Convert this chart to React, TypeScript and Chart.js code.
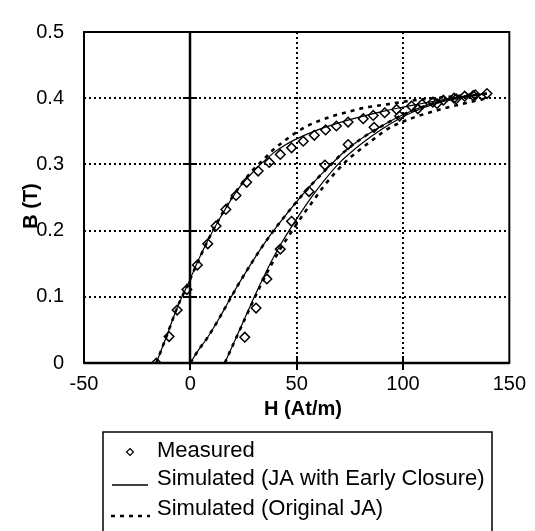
import React, { useEffect, useRef } from 'react';
import { Chart, registerables } from 'chart.js';

Chart.register(...registerables);

// ---- axis ticks ----
const xTickValues = [-50, 0, 50, 100, 150];
const yTickValues = [0, 0.1, 0.2, 0.3, 0.4, 0.5];
const xGridValues = [50, 100];
const yGridValues = [0.1, 0.2, 0.3, 0.4];
const xTickMarks = [0, 50, 100];

// ---- legend labels ----
const legendLabels = ['Measured', 'Simulated (JA with Early Closure)', 'Simulated (Original JA)'];
const xTitle = 'H (At/m)';
const yTitle = 'B (T)';

// ---- Measured data (descending branch) ----
const measDescH = [139.5, 134, 129, 124, 119, 114, 109, 104, 97, 91.4, 86, 81.3, 74.2, 68.7, 63.6, 58.3, 53.1, 47.6, 42.3, 37.1, 31.9, 26.5, 21.5, 16.7, 12.1, 8.2, 3.3, -1.6, -6.2, -10, -16];
const measDescB = [0.407, 0.405, 0.403, 0.4, 0.397, 0.394, 0.391, 0.388, 0.383, 0.378, 0.374, 0.369, 0.364, 0.358, 0.352, 0.344, 0.335, 0.325, 0.315, 0.303, 0.29, 0.273, 0.253, 0.232, 0.207, 0.18, 0.148, 0.111, 0.08, 0.04, 0];
// ---- Measured data (ascending branch) ----
const measAscH = [25.6, 30.9, 36, 42.3, 47.6, 55.8, 63.3, 74.2, 86.4, 98.4, 107, 116, 125, 133];
const measAscB = [0.039, 0.083, 0.127, 0.172, 0.214, 0.259, 0.299, 0.33, 0.356, 0.373, 0.384, 0.392, 0.399, 0.404];

// ---- Simulated JA with early closure ----
const ecDescH = [-16, -11, -6, -1, 4, 9, 14, 19, 24, 29, 34, 39, 44, 49, 59, 69, 79, 89, 99, 109, 119, 129, 139.5];
const ecDescB = [0, 0.042, 0.085, 0.12, 0.157, 0.19, 0.219, 0.246, 0.269, 0.287, 0.303, 0.317, 0.328, 0.337, 0.351, 0.362, 0.371, 0.379, 0.386, 0.392, 0.398, 0.403, 0.407];
const ecInitH = [0, 3.5, 8.4, 13.3, 18.2, 23, 28, 33, 38, 43, 48, 53, 58, 65, 72, 80, 90, 100, 110, 120, 130, 139.5];
const ecInitB = [0, 0.018, 0.04, 0.066, 0.094, 0.121, 0.147, 0.172, 0.195, 0.216, 0.236, 0.255, 0.273, 0.296, 0.318, 0.338, 0.358, 0.375, 0.388, 0.397, 0.403, 0.407];
const ecAscH = [16.2, 20, 24, 28, 33, 38, 43, 48, 53, 58, 63, 70, 80, 90, 100, 110, 120, 130, 139.5];
const ecAscB = [0, 0.027, 0.056, 0.085, 0.12, 0.153, 0.182, 0.208, 0.232, 0.255, 0.276, 0.302, 0.33, 0.353, 0.372, 0.386, 0.396, 0.402, 0.407];

// ---- Simulated original JA ----
const ojaDescH = [-16, -11, -6, -1, 4, 9, 14, 19, 24, 29, 34, 39, 47, 55, 65, 74, 81, 91, 101, 111, 121, 131, 139.5];
const ojaDescB = [0, 0.042, 0.085, 0.12, 0.156, 0.19, 0.22, 0.247, 0.27, 0.29, 0.306, 0.322, 0.342, 0.358, 0.371, 0.379, 0.385, 0.39, 0.395, 0.399, 0.402, 0.405, 0.407];
const ojaInitH = [0, 3.5, 8.4, 13.3, 18.2, 23, 28, 33, 38, 43, 48, 53, 58, 65, 72, 80, 90, 100, 110, 120, 130, 139.5];
const ojaInitB = [0, 0.018, 0.04, 0.066, 0.094, 0.121, 0.147, 0.172, 0.195, 0.216, 0.236, 0.255, 0.273, 0.296, 0.318, 0.338, 0.358, 0.375, 0.388, 0.397, 0.403, 0.407];
const ojaAscH = [16.2, 20, 24, 28, 33, 38, 43, 48, 53, 58, 63, 68, 74, 80, 87, 92, 101, 111, 121, 130, 139.5];
const ojaAscB = [0, 0.027, 0.055, 0.083, 0.117, 0.148, 0.176, 0.2, 0.224, 0.246, 0.268, 0.287, 0.307, 0.323, 0.34, 0.352, 0.366, 0.377, 0.386, 0.393, 0.4];

const FONT = '"Liberation Sans", Arial, sans-serif';

const zip = (hs: number[], bs: number[]) => hs.map((h, i) => ({ x: h, y: bs[i] }));

const measuredStyle = {
  showLine: false,
  pointStyle: 'rectRot',
  pointRadius: 4.8,
  pointBorderWidth: 1.5,
  pointBorderColor: '#000',
  pointBackgroundColor: 'rgba(255,255,255,0)',
  borderColor: '#000',
};
const ecStyle = {
  showLine: true,
  borderColor: '#000',
  borderWidth: 1.2,
  pointRadius: 0,
  cubicInterpolationMode: 'monotone',
  fill: false,
};
const ojaStyle = {
  showLine: true,
  borderColor: '#000',
  borderWidth: 2.6,
  borderDash: [4, 5],
  pointRadius: 0,
  cubicInterpolationMode: 'monotone',
  fill: false,
};

const framePlugin = {
  id: 'frame',
  beforeDatasetsDraw(chart: any) {
    const { ctx, chartArea: a, scales } = chart;
    const x = scales.x;
    const y = scales.y;
    const line = (x1: number, y1: number, x2: number, y2: number) => {
      ctx.beginPath();
      ctx.moveTo(x1, y1);
      ctx.lineTo(x2, y2);
      ctx.stroke();
    };
    ctx.save();
    ctx.strokeStyle = '#000';
    ctx.lineWidth = 2;
    ctx.setLineDash([2, 3]);
    for (const v of yGridValues) {
      const py = Math.round(y.getPixelForValue(v));
      line(a.left, py, a.right, py);
    }
    for (const v of xGridValues) {
      const px = Math.round(x.getPixelForValue(v));
      line(px, a.top, px, a.bottom);
    }
    ctx.setLineDash([]);
    const px0 = Math.round(x.getPixelForValue(0));
    ctx.lineWidth = 2.5;
    line(px0, a.top, px0, a.bottom);
    ctx.lineWidth = 2;
    for (const v of yGridValues) {
      const py = Math.round(y.getPixelForValue(v));
      line(px0 - 7, py, px0 + 7, py);
    }
    for (const v of xTickMarks) {
      const px = Math.round(x.getPixelForValue(v));
      line(px, a.bottom - 7, px, a.bottom + 7);
    }
    ctx.lineWidth = 2;
    ctx.strokeRect(a.left, a.top, a.right - a.left, a.bottom - a.top);
    ctx.lineWidth = 2.5;
    line(a.left, a.bottom, a.right, a.bottom);
    ctx.restore();
  },
  afterDraw(chart: any) {
    const { ctx } = chart;
    ctx.save();
    ctx.fillStyle = '#000';
    ctx.strokeStyle = '#000';
    // axis titles
    ctx.font = `bold 20px ${FONT}`;
    ctx.textAlign = 'center';
    ctx.textBaseline = 'middle';
    ctx.fillText(xTitle, 303, 409);
    ctx.save();
    ctx.translate(31, 206);
    ctx.rotate(-Math.PI / 2);
    ctx.fillText(yTitle, 0, 0);
    ctx.restore();

    // legend box
    ctx.lineWidth = 1.5;
    ctx.strokeRect(103, 432, 389, 140);
    ctx.font = `22px ${FONT}`;
    ctx.textAlign = 'left';
    ctx.textBaseline = 'alphabetic';
    const baselines = [457, 485, 515];
    const textX = 157;
    // measured symbol
    ctx.lineWidth = 1.2;
    ctx.beginPath();
    const cx = 130, cy = 452, r = 3.5;
    ctx.moveTo(cx, cy - r);
    ctx.lineTo(cx + r, cy);
    ctx.lineTo(cx, cy + r);
    ctx.lineTo(cx - r, cy);
    ctx.closePath();
    ctx.stroke();
    // EC symbol
    ctx.lineWidth = 1.5;
    ctx.beginPath();
    ctx.moveTo(112, 485);
    ctx.lineTo(148, 485);
    ctx.stroke();
    // OJA symbol
    ctx.lineWidth = 2.6;
    ctx.setLineDash([4, 5]);
    ctx.beginPath();
    ctx.moveTo(111, 516);
    ctx.lineTo(150, 516);
    ctx.stroke();
    ctx.setLineDash([]);
    legendLabels.forEach((t, i) => ctx.fillText(t, textX, baselines[i]));
    ctx.restore();
  },
};

export default function App() {
  const ref = useRef<HTMLCanvasElement | null>(null);
  useEffect(() => {
    document.body.style.margin = '0';
    const canvas = ref.current;
    if (!canvas) return;
    const chart = new Chart(canvas, {
      type: 'scatter',
      data: {
        datasets: [
          { ...ecStyle, data: zip(ecDescH, ecDescB) },
          { ...ecStyle, data: zip(ecInitH, ecInitB) },
          { ...ecStyle, data: zip(ecAscH, ecAscB) },
          { ...ojaStyle, data: zip(ojaDescH, ojaDescB) },
          { ...ojaStyle, data: zip(ojaInitH, ojaInitB) },
          { ...ojaStyle, data: zip(ojaAscH, ojaAscB) },
          { ...measuredStyle, data: zip(measDescH, measDescB) },
          { ...measuredStyle, data: zip(measAscH, measAscB) },
        ] as any,
      },
      options: {
        animation: false,
        responsive: false,
        devicePixelRatio: 1,
        layout: { padding: { left: 0, top: 17, right: 23, bottom: 0 } },
        plugins: { legend: { display: false }, tooltip: { enabled: false } },
        scales: {
          x: {
            type: 'linear',
            min: -50,
            max: 150,
            afterBuildTicks: (s: any) => {
              s.ticks = xTickValues.map((v) => ({ value: v }));
            },
            afterFit: (s: any) => {
              s.height = 168;
            },
            grid: { display: false, drawTicks: false },
            border: { display: false },
            ticks: {
              color: '#000',
              font: { family: FONT, size: 20 },
              padding: 9,
              maxRotation: 0,
              autoSkip: false,
              callback: (v: any) => String(v),
            },
          },
          y: {
            type: 'linear',
            min: 0,
            max: 0.5,
            afterBuildTicks: (s: any) => {
              s.ticks = yTickValues.map((v) => ({ value: v }));
            },
            afterFit: (s: any) => {
              s.width = 84;
            },
            grid: { display: false, drawTicks: false },
            border: { display: false },
            ticks: {
              color: '#000',
              font: { family: FONT, size: 20 },
              padding: 20,
              autoSkip: false,
              callback: (v: any) => String(Math.round(v * 10) / 10),
            },
          },
        },
      } as any,
      plugins: [framePlugin],
    });
    return () => chart.destroy();
  }, []);
  return (
    <div style={{ width: 535, height: 531, overflow: 'hidden', background: '#fff' }}>
      <canvas ref={ref} width={535} height={531} style={{ display: 'block', width: 535, height: 531 }} />
    </div>
  );
}
